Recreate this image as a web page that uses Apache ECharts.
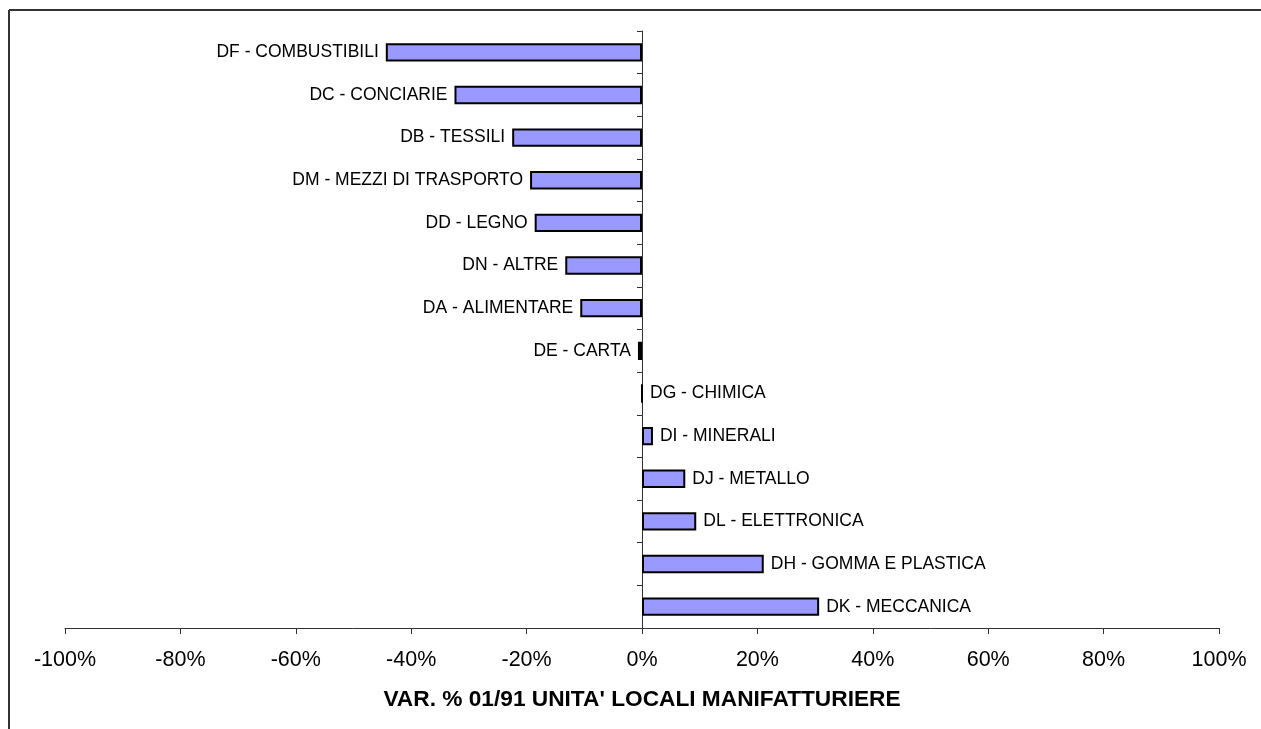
<!DOCTYPE html>
<html>
<head>
<meta charset="utf-8">
<title>VAR. % 01/91 UNITA' LOCALI MANIFATTURIERE</title>
<script src="https://cdn.jsdelivr.net/npm/echarts@6/dist/echarts.min.js"></script>
<style>
  html, body { margin: 0; padding: 0; background: #fff; }
  #chart { width: 1261px; height: 729px; }
</style>
</head>
<body>
<div id="chart"></div>
<script>
// settori manifatturieri, dall'alto in basso
var categories = [
  'DF - COMBUSTIBILI', 'DC - CONCIARIE', 'DB - TESSILI', 'DM - MEZZI DI TRASPORTO',
  'DD - LEGNO', 'DN - ALTRE', 'DA - ALIMENTARE', 'DE - CARTA', 'DG - CHIMICA',
  'DI - MINERALI', 'DJ - METALLO', 'DL - ELETTRONICA', 'DH - GOMMA E PLASTICA', 'DK - MECCANICA'
]
// variazione % 2001/1991 unita' locali
var variazione = [-44.4, -32.5, -22.5, -19.4, -18.6, -13.3, -10.7, -0.7, 0, 1.9, 7.5, 9.4, 21.1, 30.7]
var xTicks = [-100, -80, -60, -40, -20, 0, 20, 40, 60, 80, 100]
var axisTitle = "VAR. % 01/91 UNITA' LOCALI MANIFATTURIERE"

var font = 'Arial, "Liberation Sans", sans-serif'
var chart = echarts.init(document.getElementById('chart'))

chart.setOption({
  animation: false,
  textStyle: { fontFamily: font, color: '#000' },
  graphic: [
    { type: 'line', shape: { x1: 9, y1: 10, x2: 1261, y2: 10 }, style: { stroke: '#333', lineWidth: 2 } },
    { type: 'line', shape: { x1: 9, y1: 10, x2: 9, y2: 729 }, style: { stroke: '#333', lineWidth: 2 } }
  ],
  grid: {
    left: 65,
    right: 42,
    top: 31,
    bottom: 101
  },
  xAxis: {
    type: 'value',
    min: xTicks[0],
    max: xTicks[xTicks.length - 1],
    interval: xTicks[1] - xTicks[0],
    splitLine: { show: false },
    axisLine: { show: true, lineStyle: { color: '#333', width: 1 } },
    axisTick: { show: true, length: 6, lineStyle: { color: '#333' } },
    axisLabel: {
      formatter: '{value}%',
      fontSize: 21.5,
      color: '#000',
      fontFamily: font,
      margin: 21
    },
    name: axisTitle,
    nameLocation: 'middle',
    nameGap: 60,
    nameTextStyle: {
      fontSize: 22.7,
      fontWeight: 'bold',
      color: '#000',
      fontFamily: font
    }
  },
  yAxis: {
    type: 'category',
    inverse: true,
    data: categories,
    axisLine: { show: true, onZero: true, lineStyle: { color: '#333', width: 1 } },
    axisTick: { show: true, length: 5, lineStyle: { color: '#333' } },
    axisLabel: { show: false },
    splitLine: { show: false }
  },
  series: [
    {
      type: 'bar',
      barWidth: '43%',
      data: variazione.map(function (v) {
        return {
          value: v,
          label: { position: v < 0 ? 'left' : 'right' }
        }
      }),
      itemStyle: {
        color: '#9999FF',
        borderColor: '#000',
        borderWidth: 2
      },
      label: {
        show: true,
        distance: 7,
        fontSize: 17.5,
        color: '#000',
        fontFamily: font,
        formatter: function (p) { return categories[p.dataIndex] }
      }
    }
  ]
})
</script>
</body>
</html>
